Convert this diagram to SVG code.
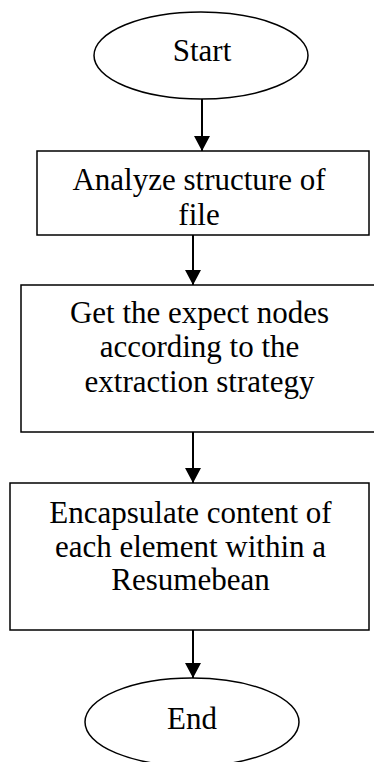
<svg xmlns="http://www.w3.org/2000/svg" width="374" height="762" viewBox="0 0 374 762">
  <style>
    .shape { fill: #ffffff; stroke: #000000; stroke-width: 1.5; }
    .label { font-family: "Liberation Serif", "DejaVu Serif", serif; font-size: 31px; fill: #000000; text-anchor: middle; }
    .conn { stroke: #000000; stroke-width: 2; fill: none; }
  </style>
  <defs>
    <marker id="arrow" markerUnits="userSpaceOnUse" markerWidth="16" markerHeight="16" refX="15" refY="8" orient="auto">
      <path d="M0,0 L15,8 L0,16 Z" fill="#000000"/>
    </marker>
  </defs>
  <rect x="0" y="0" width="374" height="762" fill="#ffffff"/>
  <g id="connectors">
    <line class="conn" x1="202" y1="99" x2="202" y2="151" marker-end="url(#arrow)"/>
    <line class="conn" x1="193" y1="235" x2="193" y2="285" marker-end="url(#arrow)"/>
    <line class="conn" x1="193" y1="432" x2="193" y2="483" marker-end="url(#arrow)"/>
    <line class="conn" x1="193" y1="630" x2="193" y2="678" marker-end="url(#arrow)"/>
  </g>
  <g id="start">
    <ellipse class="shape" cx="201" cy="55.5" rx="107" ry="43.5"/>
    <text class="label" x="202" y="61">Start</text>
  </g>
  <g id="analyze">
    <rect class="shape" x="37" y="151" width="332" height="84"/>
    <text class="label" x="199" y="190">Analyze structure of</text>
    <text class="label" x="199" y="225">file</text>
  </g>
  <g id="getnodes">
    <rect class="shape" x="21" y="285" width="360" height="147"/>
    <text class="label" x="199.5" y="323">Get the expect nodes</text>
    <text class="label" x="199.5" y="357">according to the</text>
    <text class="label" x="199.5" y="392">extraction strategy</text>
  </g>
  <g id="encapsulate">
    <rect class="shape" x="10" y="483" width="359" height="147"/>
    <text class="label" x="190.5" y="523">Encapsulate content of</text>
    <text class="label" x="190.5" y="557">each element within a</text>
    <text class="label" x="190.5" y="590">Resumebean</text>
  </g>
  <g id="end">
    <ellipse class="shape" cx="192" cy="722" rx="107" ry="44"/>
    <text class="label" x="192" y="729">End</text>
  </g>
</svg>
